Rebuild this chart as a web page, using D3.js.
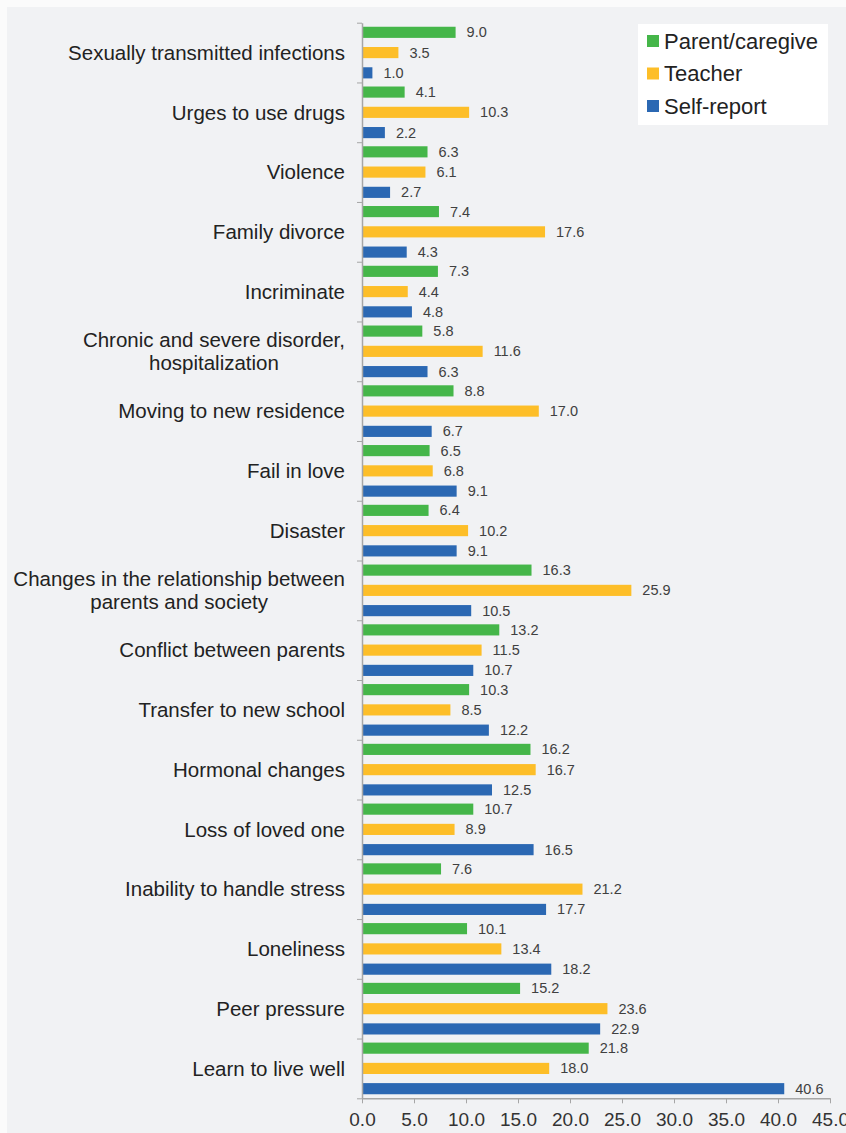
<!DOCTYPE html>
<html>
<head>
<meta charset="utf-8">
<script src="https://cdn.jsdelivr.net/npm/d3@7/dist/d3.min.js"></script>
<style>
  body { margin: 0; background: #fbfbfb; }
  svg { display: block; font-family: "Liberation Sans", Arial, sans-serif; }
</style>
</head>
<body>
<div id="chart"></div>
<script>
// categories, top to bottom
var categories = [
  "Sexually transmitted infections",
  "Urges to use drugs",
  "Violence",
  "Family divorce",
  "Incriminate",
  "Chronic and severe disorder,\nhospitalization",
  "Moving to new residence",
  "Fail in love",
  "Disaster",
  "Changes in the relationship between\nparents and society",
  "Conflict between parents",
  "Transfer to new school",
  "Hormonal changes",
  "Loss of loved one",
  "Inability to handle stress",
  "Loneliness",
  "Peer pressure",
  "Learn to live well"
];
var seriesNames = ["Parent/caregive", "Teacher", "Self-report"];
var seriesColors = ["#45b649", "#fdbe28", "#2b68b3"];

var parentVals  = [9.0, 4.1, 6.3, 7.4, 7.3, 5.8, 8.8, 6.5, 6.4, 16.3, 13.2, 10.3, 16.2, 10.7, 7.6, 10.1, 15.2, 21.8];
var teacherVals = [3.5, 10.3, 6.1, 17.6, 4.4, 11.6, 17.0, 6.8, 10.2, 25.9, 11.5, 8.5, 16.7, 8.9, 21.2, 13.4, 23.6, 18.0];
var selfVals    = [1.0, 2.2, 2.7, 4.3, 4.8, 6.3, 6.7, 9.1, 9.1, 10.5, 10.7, 12.2, 12.5, 16.5, 17.7, 18.2, 22.9, 40.6];
var xTicks = [0, 5, 10, 15, 20, 25, 30, 35, 40, 45];

var w = 846, h = 1133;
var plotLeft = 362, plotRight = 830, plotTop = 22.7, plotBottom = 1098.3;

var svg = d3.select("#chart").append("svg")
  .attr("width", w).attr("height", h);

// panel background
svg.append("rect")
  .attr("x", 7).attr("y", 7).attr("width", w - 7).attr("height", h - 7)
  .attr("fill", "#f1f2f4");

var x = d3.scaleLinear().domain([0, 45]).range([plotLeft, plotRight]);
var y0 = d3.scaleBand().domain(d3.range(categories.length)).range([plotTop, plotBottom]).padding(0);
var y1 = d3.scaleBand().domain([0, 1, 2]).range([0, y0.bandwidth()])
  .paddingInner(0.45).paddingOuter(0.2);

var rows = categories.map(function (c, i) {
  return { cat: c, i: i, vals: [parentVals[i], teacherVals[i], selfVals[i]] };
});

var groups = svg.selectAll(".grp")
  .data(rows)
  .enter().append("g")
  .attr("class", "grp")
  .attr("transform", function (d) { return "translate(0," + y0(d.i) + ")"; });

groups.selectAll("rect")
  .data(function (d) { return d.vals.map(function (v, s) { return { v: v, s: s }; }); })
  .enter().append("rect")
  .attr("x", x(0))
  .attr("y", function (d) { return y1(d.s); })
  .attr("width", function (d) { return x(d.v) - x(0); })
  .attr("height", y1.bandwidth())
  .attr("fill", function (d) { return seriesColors[d.s]; });

groups.selectAll(".val")
  .data(function (d) { return d.vals.map(function (v, s) { return { v: v, s: s }; }); })
  .enter().append("text")
  .attr("class", "val")
  .attr("x", function (d) { return x(d.v) + 11; })
  .attr("y", function (d) { return y1(d.s) + y1.bandwidth() / 2; })
  .attr("dy", "0.35em")
  .attr("font-size", "14.5px")
  .attr("fill", "#404040")
  .text(function (d) { return d3.format(".1f")(d.v); });

// category labels (multi-line labels are centred as a block, right-aligned)
groups.each(function (d) {
  var lines = d.cat.split("\n");
  var g = d3.select(this);
  var cy = y0.bandwidth() / 2;
  var lh = 23;
  var t = g.append("text")
    .attr("font-size", "20.5px")
    .attr("fill", "#222");
  lines.forEach(function (ln, k) {
    t.append("tspan")
      .attr("y", cy + (k - (lines.length - 1) / 2) * lh)
      .attr("dy", "0.35em")
      .text(ln);
  });
  if (lines.length == 1) {
    t.attr("text-anchor", "end").selectAll("tspan").attr("x", 345);
  } else {
    var maxW = 0;
    t.selectAll("tspan").each(function () { maxW = Math.max(maxW, this.getComputedTextLength()); });
    t.attr("text-anchor", "middle").selectAll("tspan").attr("x", 345 - maxW / 2);
  }
});

// left axis with ticks on category boundaries
var yb = d3.scaleLinear().domain([0, categories.length]).range([plotTop, plotBottom]);
var yAxis = svg.append("g")
  .attr("transform", "translate(" + plotLeft + ",0)")
  .call(d3.axisLeft(yb).tickValues(d3.range(categories.length + 1))
    .tickFormat("").tickSize(5).tickSizeOuter(0));
yAxis.select(".domain").attr("stroke", "#a6a6a6").attr("stroke-width", 1.5);
yAxis.selectAll("line").attr("stroke", "#a6a6a6");

// bottom axis
var xAxis = svg.append("g")
  .attr("transform", "translate(0," + plotBottom + ")")
  .call(d3.axisBottom(x).tickValues(xTicks).tickFormat(d3.format(".1f")).tickSize(5).tickSizeOuter(0));
xAxis.select(".domain").attr("stroke", "#a6a6a6").attr("stroke-width", 1.5);
xAxis.selectAll("line").attr("stroke", "#a6a6a6");
xAxis.selectAll("text")
  .attr("y", 14)
  .attr("font-size", "19px")
  .attr("font-family", "Liberation Sans, Arial, sans-serif")
  .attr("fill", "#333");

// legend
var lg = svg.append("g");
lg.append("rect")
  .attr("x", 638).attr("y", 24).attr("width", 190).attr("height", 101)
  .attr("fill", "#ffffff");
var items = lg.selectAll(".item")
  .data(seriesNames)
  .enter().append("g")
  .attr("class", "item")
  .attr("transform", function (d, i) { return "translate(647," + (41 + i * 32.5) + ")"; });
items.append("rect")
  .attr("x", 0).attr("y", -6).attr("width", 12).attr("height", 12)
  .attr("fill", function (d, i) { return seriesColors[i]; });
items.append("text")
  .attr("x", 17)
  .attr("dy", "0.36em")
  .attr("font-size", "22px")
  .attr("fill", "#222")
  .text(function (d) { return d; });
</script>
</body>
</html>
